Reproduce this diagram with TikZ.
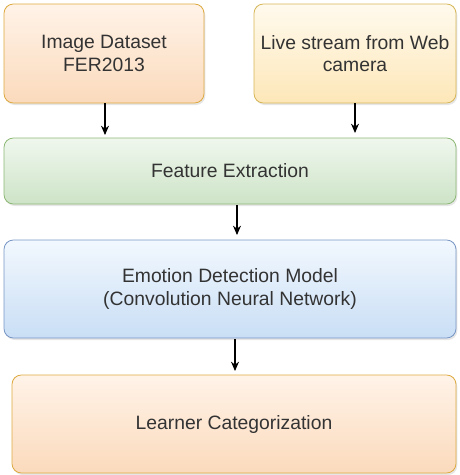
\documentclass[tikz,border=0pt]{standalone}
\usepackage{fontspec}
\setmainfont{Liberation Sans}
\usetikzlibrary{arrows.meta,shadows}

\definecolor{orangeTop}{HTML}{FFF3E8}
\definecolor{orangeBot}{HTML}{FBDABC}
\definecolor{orangeLine}{HTML}{DDAA40}
\definecolor{yellowTop}{HTML}{FFFAEE}
\definecolor{yellowBot}{HTML}{FDE7B8}
\definecolor{yellowLine}{HTML}{D6B656}
\definecolor{greenTop}{HTML}{F0F7EE}
\definecolor{greenBot}{HTML}{CDE3C7}
\definecolor{greenLine}{HTML}{8DB876}
\definecolor{blueTop}{HTML}{F2F8FE}
\definecolor{blueBot}{HTML}{C9DEF5}
\definecolor{blueLine}{HTML}{7896C4}
\definecolor{textGray}{HTML}{333333}

\begin{document}
\begin{tikzpicture}[x=0.75pt,y=-0.75pt,
    box/.style={rectangle, rounded corners=7pt, draw, line width=0.6pt,
      align=center, text=textGray, font=\fontsize{14.5}{17}\selectfont,
      drop shadow={shadow xshift=1pt, shadow yshift=-1.5pt, opacity=0.2}},
    orangebox/.style={box, draw=orangeLine, top color=orangeTop, bottom color=orangeBot},
    yellowbox/.style={box, draw=yellowLine, top color=yellowTop, bottom color=yellowBot},
    greenbox/.style={box, draw=greenLine, top color=greenTop, bottom color=greenBot},
    bluebox/.style={box, draw=blueLine, top color=blueTop, bottom color=blueBot},
    flow/.style={-{Stealth[length=7pt,width=6pt]}, line width=0.8pt, black}]

  \useasboundingbox (0,0) rectangle (460,475);

  % Input boxes
  \node[orangebox, minimum width=150pt, minimum height=74.25pt] (dataset) at (104,53.5)
    {Image Dataset\\FER2013};
  \node[yellowbox, minimum width=151.5pt, minimum height=74.25pt] (webcam) at (355,53.5)
    {Live stream from Web\\camera};

  % Processing boxes
  \node[greenbox, minimum width=339pt, minimum height=49.5pt] (features) at (230,171)
    {Feature Extraction};
  \node[bluebox, minimum width=339pt, minimum height=73.5pt] (model) at (230,289)
    {Emotion Detection Model\\(Convolution Neural Network)};
  \node[orangebox, minimum width=333pt, minimum height=73.5pt] (learner) at (234,424)
    {Learner Categorization};

  % Arrows
  \draw[flow] (dataset.south) ++(1,0) -- (105,135);
  \draw[flow] (webcam.south) -- (355,133);
  \draw[flow] (237,205) -- (237,235);
  \draw[flow] (235,339) -- (235,371);
\end{tikzpicture}
\end{document}
